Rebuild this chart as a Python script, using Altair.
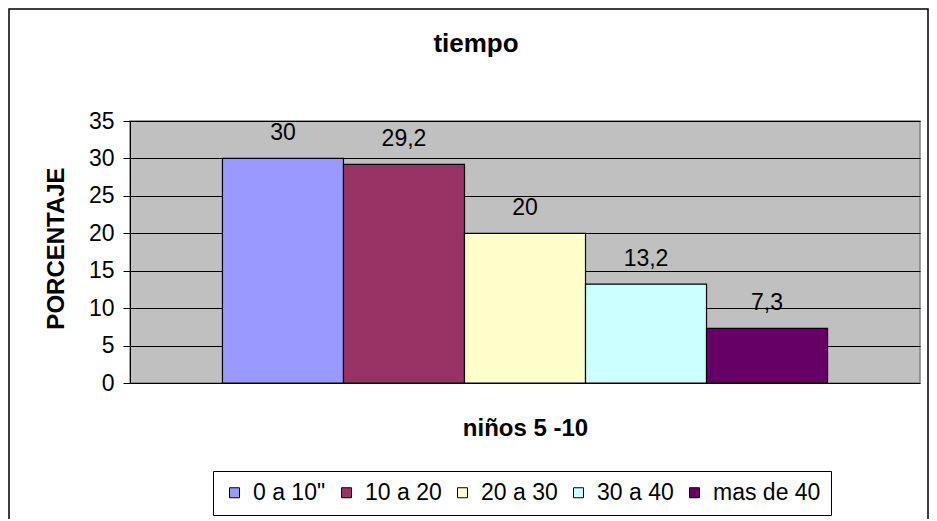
import altair as alt
import pandas as pd

# ---- data ----
categories = ['0 a 10"', "10 a 20", "20 a 30", "30 a 40", "mas de 40"]
values = [30, 29.2, 20, 13.2, 7.3]
bar_colors = ["#9999FF", "#993366", "#FFFFCC", "#CCFFFF", "#660066"]
y_ticks = [0, 5, 10, 15, 20, 25, 30, 35]
labels = [f"{v:g}".replace(".", ",") for v in values]

FONT = "Liberation Sans"

df = pd.DataFrame({"grupo": categories, "porcentaje": values, "etiqueta": labels})

x_enc = alt.X(
    "grupo:N",
    sort=categories,
    scale=alt.Scale(paddingInner=0, paddingOuter=0.764),
    axis=alt.Axis(
        title="niños 5 -10",
        labels=False,
        ticks=False,
        domain=False,
        grid=False,
        titleFontSize=24,
        titleFontWeight="bold",
        titleBaseline="alphabetic",
        titleY=52,
    ),
)
y_enc = alt.Y(
    "porcentaje:Q",
    scale=alt.Scale(domain=[0, 35], nice=False),
    axis=alt.Axis(
        values=y_ticks,
        title="PORCENTAJE",
        titleFontSize=24,
        titleFontWeight="bold",
        titleAngle=270,
        titleAlign="center",
        titleBaseline="alphabetic",
        titleX=-67,
        titleY=127,
        labelFontSize=23,
        labelPadding=9,
        labelOverlap=False,
        labelFlush=False,
        tickSize=7,
        tickColor="black",
        domainColor="black",
        grid=True,
        gridColor="black",
        gridWidth=1,
    ),
)

bars = alt.Chart(df).mark_bar(stroke="black", strokeWidth=1.2).encode(
    x=x_enc,
    y=y_enc,
    color=alt.Color(
        "grupo:N",
        sort=categories,
        scale=alt.Scale(domain=categories, range=bar_colors),
        legend=alt.Legend(
            title=None,
            orient="none",
            legendX=83,
            legendY=350,
            direction="horizontal",
            symbolType="square",
            symbolSize=100,
            symbolStrokeColor="black",
            symbolStrokeWidth=1,
            labelFontSize=23,
            labelFont=FONT,
            labelColor="black",
            labelOffset=7,
            columnPadding=9,
            padding=10,
            strokeColor="black",
            fillColor="white",
        ),
    ),
)

text = alt.Chart(df).mark_text(
    fontSize=23, baseline="alphabetic", dy=-18, color="black", font=FONT
).encode(
    x=x_enc,
    y=y_enc,
    text="etiqueta:N",
)

border = alt.Chart(pd.DataFrame({"k": [0]})).mark_rect(
    stroke="black", strokeWidth=1.5, fillOpacity=0
).encode(
    x=alt.value(-121), x2=alt.value(798), y=alt.value(-112), y2=alt.value(430)
)

chart = (
    alt.layer(border, bars, text)
    .properties(
        width=790,
        height=262,
        autosize=alt.AutoSizeParams(type="none"),
        padding={"left": 122, "top": 113, "right": 9, "bottom": 136},
        title=alt.TitleParams(
            "tiempo",
            fontSize=26,
            fontWeight="bold",
            font=FONT,
            color="black",
            anchor="middle",
            frame="group",
            dx=-49,
            dy=70,
            baseline="alphabetic",
            offset=0,
        ),
    )
    .configure(font=FONT)
    .configure_view(fill="#C0C0C0", stroke="#808080", strokeWidth=1.5)
    .configure_axis(labelFont=FONT, titleFont=FONT, labelColor="black", titleColor="black")
)

chart.save("out.html", embed_options={"renderer": "svg", "actions": False})
